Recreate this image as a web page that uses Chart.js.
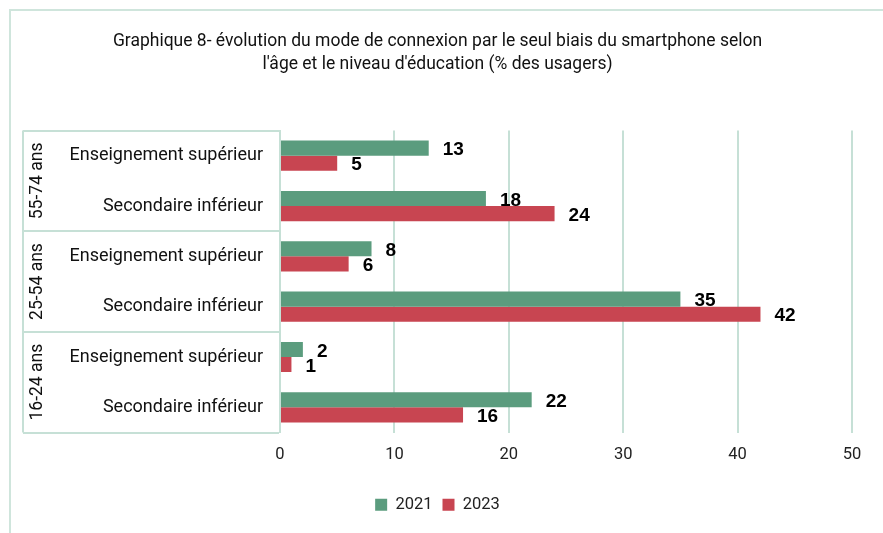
<!DOCTYPE html>
<html>
<head>
<meta charset="utf-8">
<script src="https://cdn.jsdelivr.net/npm/chart.js@4/dist/chart.umd.min.js"></script>
<style>
    body { margin: 0; background: #fff; }
    #wrap { position: relative; width: 883px; height: 533px; overflow: hidden; }
    #frame { position: absolute; left: 9px; top: 9px; width: 900px; height: 600px; border: 2px solid #cfe5dc; box-sizing: border-box; }
    canvas { position: absolute; left: 0; top: 0; }
</style>
</head>
<body>
<div id="wrap">
    <div id="frame"></div>
    <canvas id="chart" width="883" height="533"></canvas>
</div>
<script>
const groups = ["55-74 ans", "25-54 ans", "16-24 ans"];
const categories = [
    "Enseignement supérieur", "Secondaire inférieur",
    "Enseignement supérieur", "Secondaire inférieur",
    "Enseignement supérieur", "Secondaire inférieur"
];
const values2021 = [13, 18, 8, 35, 2, 22];
const values2023 = [5, 24, 6, 42, 1, 16];
const xTicks = [0, 10, 20, 30, 40, 50];

const LINE = '#c6e0d6';
const FONT = "Roboto, 'Liberation Sans', Arial, sans-serif";

// valeurs au bout des barres
const valueLabels = {
    id: 'valueLabels',
    afterDatasetsDraw(chart) {
        const ctx = chart.ctx;
        ctx.save();
        ctx.font = "bold 19px 'Liberation Sans', Arial, sans-serif";
        ctx.fillStyle = '#000';
        ctx.textAlign = 'left';
        ctx.textBaseline = 'middle';
        chart.data.datasets.forEach((ds, i) => {
            chart.getDatasetMeta(i).data.forEach((bar, j) => {
                ctx.fillText(ds.data[j], bar.x + 14, bar.y + 2);
            });
        });
        ctx.restore();
    }
};

// tableau des groupes d'âge à gauche
const groupTable = {
    id: 'groupTable',
    afterDraw(chart) {
        const ctx = chart.ctx;
        const y = chart.scales.y;
        const area = chart.chartArea;
        const left = 23;
        const right = area.left - 1;
        const bounds = [area.top];
        for (let g = 1; g < groups.length; g++) {
            const k = g * 2;
            bounds.push((y.getPixelForValue(k - 1) + y.getPixelForValue(k)) / 2);
        }
        bounds.push(area.bottom);

        ctx.save();
        ctx.strokeStyle = LINE;
        ctx.lineWidth = 2;
        bounds.forEach(b => {
            ctx.beginPath();
            ctx.moveTo(left, Math.round(b));
            ctx.lineTo(right, Math.round(b));
            ctx.stroke();
        });
        ctx.beginPath();
        ctx.moveTo(left, area.top);
        ctx.lineTo(left, area.bottom);
        ctx.stroke();

        ctx.fillStyle = '#111';
        ctx.font = "17.5px " + FONT;
        ctx.textAlign = 'center';
        ctx.textBaseline = 'middle';
        groups.forEach((g, i) => {
            const cy = (bounds[i] + bounds[i + 1]) / 2;
            ctx.save();
            ctx.translate(38, cy);
            ctx.rotate(-Math.PI / 2);
            ctx.fillText(g, 0, 0);
            ctx.restore();
        });
        ctx.restore();
    }
};

new Chart(document.getElementById('chart'), {
    type: 'bar',
    data: {
        labels: categories,
        datasets: [
            { label: '2021', data: values2021, backgroundColor: '#5b9c7e' },
            { label: '2023', data: values2023, backgroundColor: '#c84551' }
        ]
    },
    options: {
        indexAxis: 'y',
        responsive: false,
        animation: false,
        layout: { padding: { left: 23, right: 31, top: 0, bottom: 10 } },
        datasets: { bar: { categoryPercentage: 0.6, barPercentage: 1 } },
        scales: {
            x: {
                min: 0,
                max: 50,
                afterBuildTicks: (axis) => { axis.ticks = xTicks.map(v => ({ value: v })); },
                afterFit: (axis) => { axis.height = 54; },
                grid: { color: LINE, lineWidth: 2, drawTicks: false },
                border: { display: false },
                ticks: { color: '#222', font: { family: FONT, size: 16.5 }, padding: 12 }
            },
            y: {
                afterFit: (axis) => { axis.width = 257; },
                grid: { display: false },
                border: { color: LINE, width: 2 },
                ticks: { color: '#111', font: { family: FONT, size: 18 }, padding: 9 }
            }
        },
        plugins: {
            title: {
                display: true,
                text: [
                    "Graphique 8- évolution du mode de connexion par le seul biais du smartphone selon",
                    "l'âge et le niveau d'éducation (% des usagers)"
                ],
                color: '#111',
                font: { family: FONT, size: 17.5, weight: 'normal', lineHeight: 1.33 },
                padding: { top: 30, bottom: 54 }
            },
            legend: {
                position: 'bottom',
                labels: {
                    color: '#222',
                    font: { family: FONT, size: 16.5 },
                    boxWidth: 12,
                    boxHeight: 12,
                    padding: 10
                }
            },
            tooltip: { enabled: false }
        }
    },
    plugins: [valueLabels, groupTable]
});
</script>
</body>
</html>
